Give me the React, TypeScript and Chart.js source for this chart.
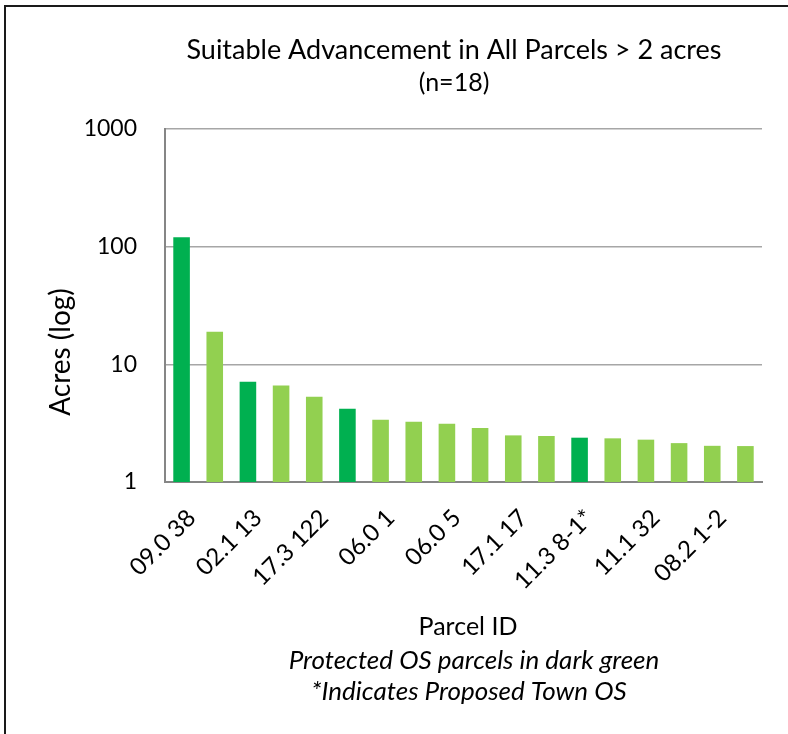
import React, { useEffect, useRef } from "react";
import { Chart, registerables } from "chart.js";

Chart.register(...registerables);

// ---- data ----
const parcelIds = [
  "09.0 38", "", "02.1 13", "", "17.3 122", "", "06.0 1", "", "06.0 5",
  "", "17.1 17", "", "11.3 8-1*", "", "11.1 32", "", "08.2 1-2", "",
];
const acres = [
  120, 18.9, 7.1, 6.6, 5.3, 4.2, 3.38, 3.25, 3.13,
  2.87, 2.49, 2.46, 2.38, 2.35, 2.29, 2.14, 2.03, 2.02,
];
const protectedOS = [
  true, false, true, false, false, true, false, false, false,
  false, false, false, true, false, false, false, false, false,
];
const yTicks = [1, 10, 100, 1000];
const titleLines = ["Suitable Advancement in All Parcels > 2 acres", "(n=18)"];
const yTitle = "Acres (log)";
const xTitle = "Parcel ID";
const notes = ["Protected OS parcels in dark green", "*Indicates Proposed Town OS"];

const FONT = "Lato, 'Open Sans', sans-serif";
const DARK = "#00B050";
const LIGHT = "#92D050";
const W = 788;
const H = 734;

const textPlugin = {
  id: "textPlugin",
  afterDraw(chart: any) {
    const ctx = chart.ctx as CanvasRenderingContext2D;
    const xs = chart.scales.x;
    ctx.save();
    ctx.fillStyle = "#000";

    // rotated category labels, end of text at the tick
    ctx.font = `24px ${FONT}`;
    ctx.textAlign = "right";
    ctx.textBaseline = "middle";
    parcelIds.forEach((lab, i) => {
      if (!lab) return;
      const px = xs.getPixelForTick(i);
      ctx.save();
      ctx.translate(px + 10, xs.top + 32);
      ctx.rotate(-Math.PI / 4);
      ctx.fillText(lab, 0, 0);
      ctx.restore();
    });

    ctx.textBaseline = "alphabetic";
    ctx.textAlign = "center";
    ctx.font = `27px ${FONT}`;
    ctx.fillText(titleLines[0], 454, 59);
    ctx.font = `25px ${FONT}`;
    ctx.fillText(titleLines[1], 454, 91);

    ctx.font = `25px ${FONT}`;
    ctx.fillText(xTitle, 468, 635);
    ctx.font = `italic 26px ${FONT}`;
    ctx.fillText(notes[0], 474, 669);
    ctx.fillText(notes[1], 469, 700);

    ctx.font = `28px ${FONT}`;
    ctx.translate(70, 352);
    ctx.rotate(-Math.PI / 2);
    ctx.fillText(yTitle, 0, 0);
    ctx.restore();
  },
};

export default function App() {
  const ref = useRef<HTMLCanvasElement | null>(null);

  useEffect(() => {
    if (!ref.current) return;
    const chart = new Chart(ref.current, {
      type: "bar",
      data: {
        labels: parcelIds,
        datasets: [
          {
            data: acres,
            backgroundColor: protectedOS.map((p) => (p ? DARK : LIGHT)),
            borderWidth: 0,
            barPercentage: 0.5,
            categoryPercentage: 1,
          },
        ],
      },
      options: {
        responsive: false,
        animation: false,
        devicePixelRatio: 1,
        layout: { padding: { left: 0, right: 26, top: 129, bottom: 0 } },
        plugins: {
          legend: { display: false },
          title: { display: false },
          tooltip: { enabled: false },
        },
        scales: {
          x: {
            type: "category",
            grid: { display: false, drawTicks: false },
            border: { display: true, color: "#868686", width: 2 },
            ticks: { display: false },
            afterFit(s: any) {
              s.height = 252;
            },
          },
          y: {
            type: "logarithmic",
            min: 1,
            max: 1000,
            afterBuildTicks(s: any) {
              s.ticks = yTicks.map((v) => ({ value: v }));
            },
            grid: { color: "#A6A6A6", lineWidth: 1.5, drawTicks: false },
            border: { display: true, color: "#868686", width: 2 },
            ticks: {
              padding: 28,
              color: "#000",
              font: { family: FONT, size: 23 },
              callback: (v: any) => String(v),
            },
            afterFit(s: any) {
              s.width = 165;
            },
          },
        },
      },
      plugins: [textPlugin],
    });
    return () => chart.destroy();
  }, []);

  return (
    <div
      style={{
        position: "absolute",
        left: 0,
        top: 0,
        width: W,
        height: H,
        overflow: "hidden",
        background: "#fff",
      }}
    >
      <canvas ref={ref} width={W} height={H} style={{ width: W, height: H, display: "block" }} />
      <div
        style={{
          position: "absolute",
          left: 4,
          top: 5,
          width: W - 4,
          height: H - 5,
          boxSizing: "border-box",
          borderLeft: "2px solid #1a1a1a",
          borderTop: "2px solid #1a1a1a",
          pointerEvents: "none",
        }}
      />
    </div>
  );
}
